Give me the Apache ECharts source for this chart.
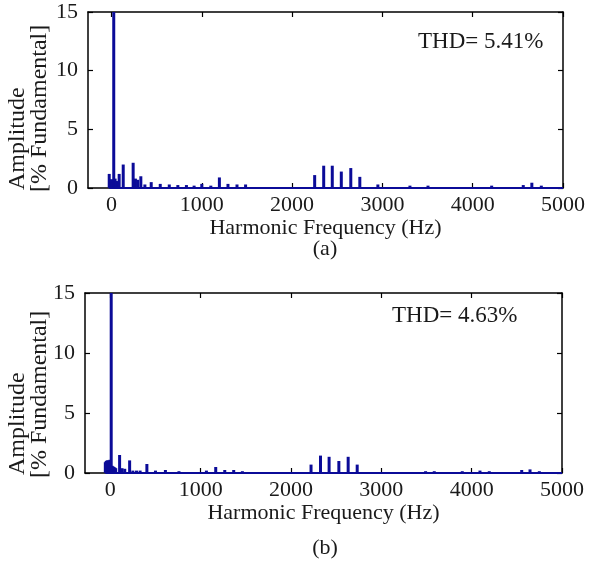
<!DOCTYPE html>
<html>
<head>
<meta charset="utf-8">
<script src="https://cdn.jsdelivr.net/npm/echarts@6/dist/echarts.min.js"></script>
<style>
  html, body { margin: 0; padding: 0; background: #fff; }
  #chart { width: 594px; height: 570px; }
</style>
</head>
<body>
<div id="chart"></div>
<script>
// spectrum (a)
var freqA = [-25, 0, 10, 25, 40, 55, 70, 85, 130, 240, 265, 290, 325, 370, 440, 540, 640, 735, 830, 915,
             1000, 1100, 1195, 1290, 1390, 1485, 2250, 2350, 2445, 2545, 2650, 2750, 2950, 3305, 3505,
             4210, 4560, 4655, 4760];
var ampA  = [1.2, 0.75, 0.5, 100, 0.8, 0.6, 0.5, 1.2, 2.0, 2.15, 0.8, 0.7, 1.0, 0.3, 0.5, 0.35, 0.3, 0.25, 0.25, 0.2,
             0.35, 0.2, 0.9, 0.35, 0.3, 0.3, 1.1, 1.9, 1.9, 1.4, 1.7, 0.95, 0.3, 0.2, 0.2,
             0.2, 0.25, 0.45, 0.2];
var thdA = 'THD= 5.41%';

// spectrum (b)
var freqB = [-55, -45, -35, -25, -15, -5, 10, 20, 30, 40, 50, 60, 103, 130, 160, 214, 250, 290, 330, 405, 500,
             610, 760, 1064, 1167, 1267, 1366, 1462, 2222, 2327, 2422, 2530, 2633, 2733, 3490, 3586, 3896,
             4092, 4195, 4554, 4646, 4749];
var ampB  = [0.9, 1.0, 1.05, 1.05, 1.0, 1.1, 100, 0.6, 0.55, 0.5, 0.45, 0.4, 1.5, 0.4, 0.35, 1.05, 0.2, 0.2, 0.2, 0.75, 0.2,
             0.25, 0.15, 0.2, 0.5, 0.25, 0.25, 0.15, 0.7, 1.45, 1.35, 1.0, 1.35, 0.7, 0.15, 0.15, 0.15,
             0.2, 0.15, 0.25, 0.3, 0.15];
var thdB = 'THD= 4.63%';

var xTicks = [0, 1000, 2000, 3000, 4000, 5000];
var yTicks = [0, 5, 10, 15];
var xName = 'Harmonic Frequency (Hz)';
var yName1 = 'Amplitude';
var yName2 = '[% Fundamental]';

var FONT = 'Liberation Serif';
var TXT = '#1a1a1a';
var BLUE = '#0b0b98';

function pairs(xs, ys){
    var out = [];
    for (var i = 0; i < xs.length; i++) out.push([xs[i], ys[i]]);
    return out;
}

function xAxes(gi, min){
    var base = {
        gridIndex: gi, type: 'value', min: min, max: 5000,
        axisLine: {show: true, onZero: false, lineStyle: {color: '#000', width: 1.5}},
        axisTick: {show: true, inside: true, length: 5, customValues: xTicks, lineStyle: {color: '#000', width: 1.2}},
        splitLine: {show: false}
    };
    var bottom = echarts.util.merge({
        position: 'bottom',
        name: xName, nameLocation: 'middle', nameGap: 29,
        nameTextStyle: {fontFamily: FONT, fontSize: 22, color: TXT},
        axisLabel: {customValues: xTicks, fontFamily: FONT, fontSize: 22, color: TXT, margin: 6,
                    formatter: function(v){ return String(v); }}
    }, base, true);
    var top = echarts.util.merge({position: 'top', axisLabel: {show: false}}, base, true);
    return [bottom, top];
}

function yAxes(gi){
    var base = {
        gridIndex: gi, type: 'value', min: yTicks[0], max: yTicks[yTicks.length - 1], interval: 5,
        axisLine: {show: true, onZero: false, lineStyle: {color: '#000', width: 1.5}},
        axisTick: {show: true, inside: true, length: 5, lineStyle: {color: '#000', width: 1.2}},
        splitLine: {show: false}
    };
    var left = echarts.util.merge({
        position: 'left',
        axisLabel: {fontFamily: FONT, fontSize: 22, color: TXT, margin: 10}
    }, base, true);
    var right = echarts.util.merge({position: 'right', axisLabel: {show: false}}, base, true);
    return [left, right];
}

function txt(x, y, s, size, rot, align){
    return {
        type: 'text', x: x, y: y, rotation: rot || 0,
        style: {text: s, font: size + 'px "' + FONT + '"', fill: TXT, align: align || 'center', verticalAlign: 'middle'}
    };
}

var chart = echarts.init(document.getElementById('chart'));
var xa = xAxes(0, -260), xb = xAxes(1, -280);
var ya = yAxes(0), yb = yAxes(1);

var option = {
    animation: false,
    backgroundColor: '#fff',
    grid: [
        {left: 88, top: 12, width: 475, height: 176},
        {left: 85, top: 293, width: 477, height: 180}
    ],
    xAxis: [xa[0], xa[1], xb[0], xb[1]],
    yAxis: [ya[0], ya[1], yb[0], yb[1]],
    series: [
        {type: 'line', xAxisIndex: 0, yAxisIndex: 0, symbol: 'none',
         data: [[freqA[0], 0], [5000, 0]], lineStyle: {color: BLUE, width: 2}, z: 1},
        {type: 'bar', xAxisIndex: 0, yAxisIndex: 0, barWidth: 3, clip: true,
         data: pairs(freqA, ampA), itemStyle: {color: BLUE}, z: 2},
        {type: 'line', xAxisIndex: 2, yAxisIndex: 2, symbol: 'none',
         data: [[freqB[0], 0], [5000, 0]], lineStyle: {color: BLUE, width: 2}, z: 1},
        {type: 'bar', xAxisIndex: 2, yAxisIndex: 2, barWidth: 3, clip: true,
         data: pairs(freqB, ampB), itemStyle: {color: BLUE}, z: 2}
    ],
    graphic: [
        txt(418, 42, thdA, 23, 0, 'left'),
        txt(392, 316, thdB, 23, 0, 'left'),
        txt(18, 190, yName1, 24, Math.PI / 2, 'left'),
        txt(40, 192, yName2, 24, Math.PI / 2, 'left'),
        txt(18, 475, yName1, 24, Math.PI / 2, 'left'),
        txt(40, 478, yName2, 24, Math.PI / 2, 'left'),
        txt(325, 249, '(a)', 22),
        txt(325, 548, '(b)', 22)
    ]
};
chart.setOption(option);
</script>
</body>
</html>
